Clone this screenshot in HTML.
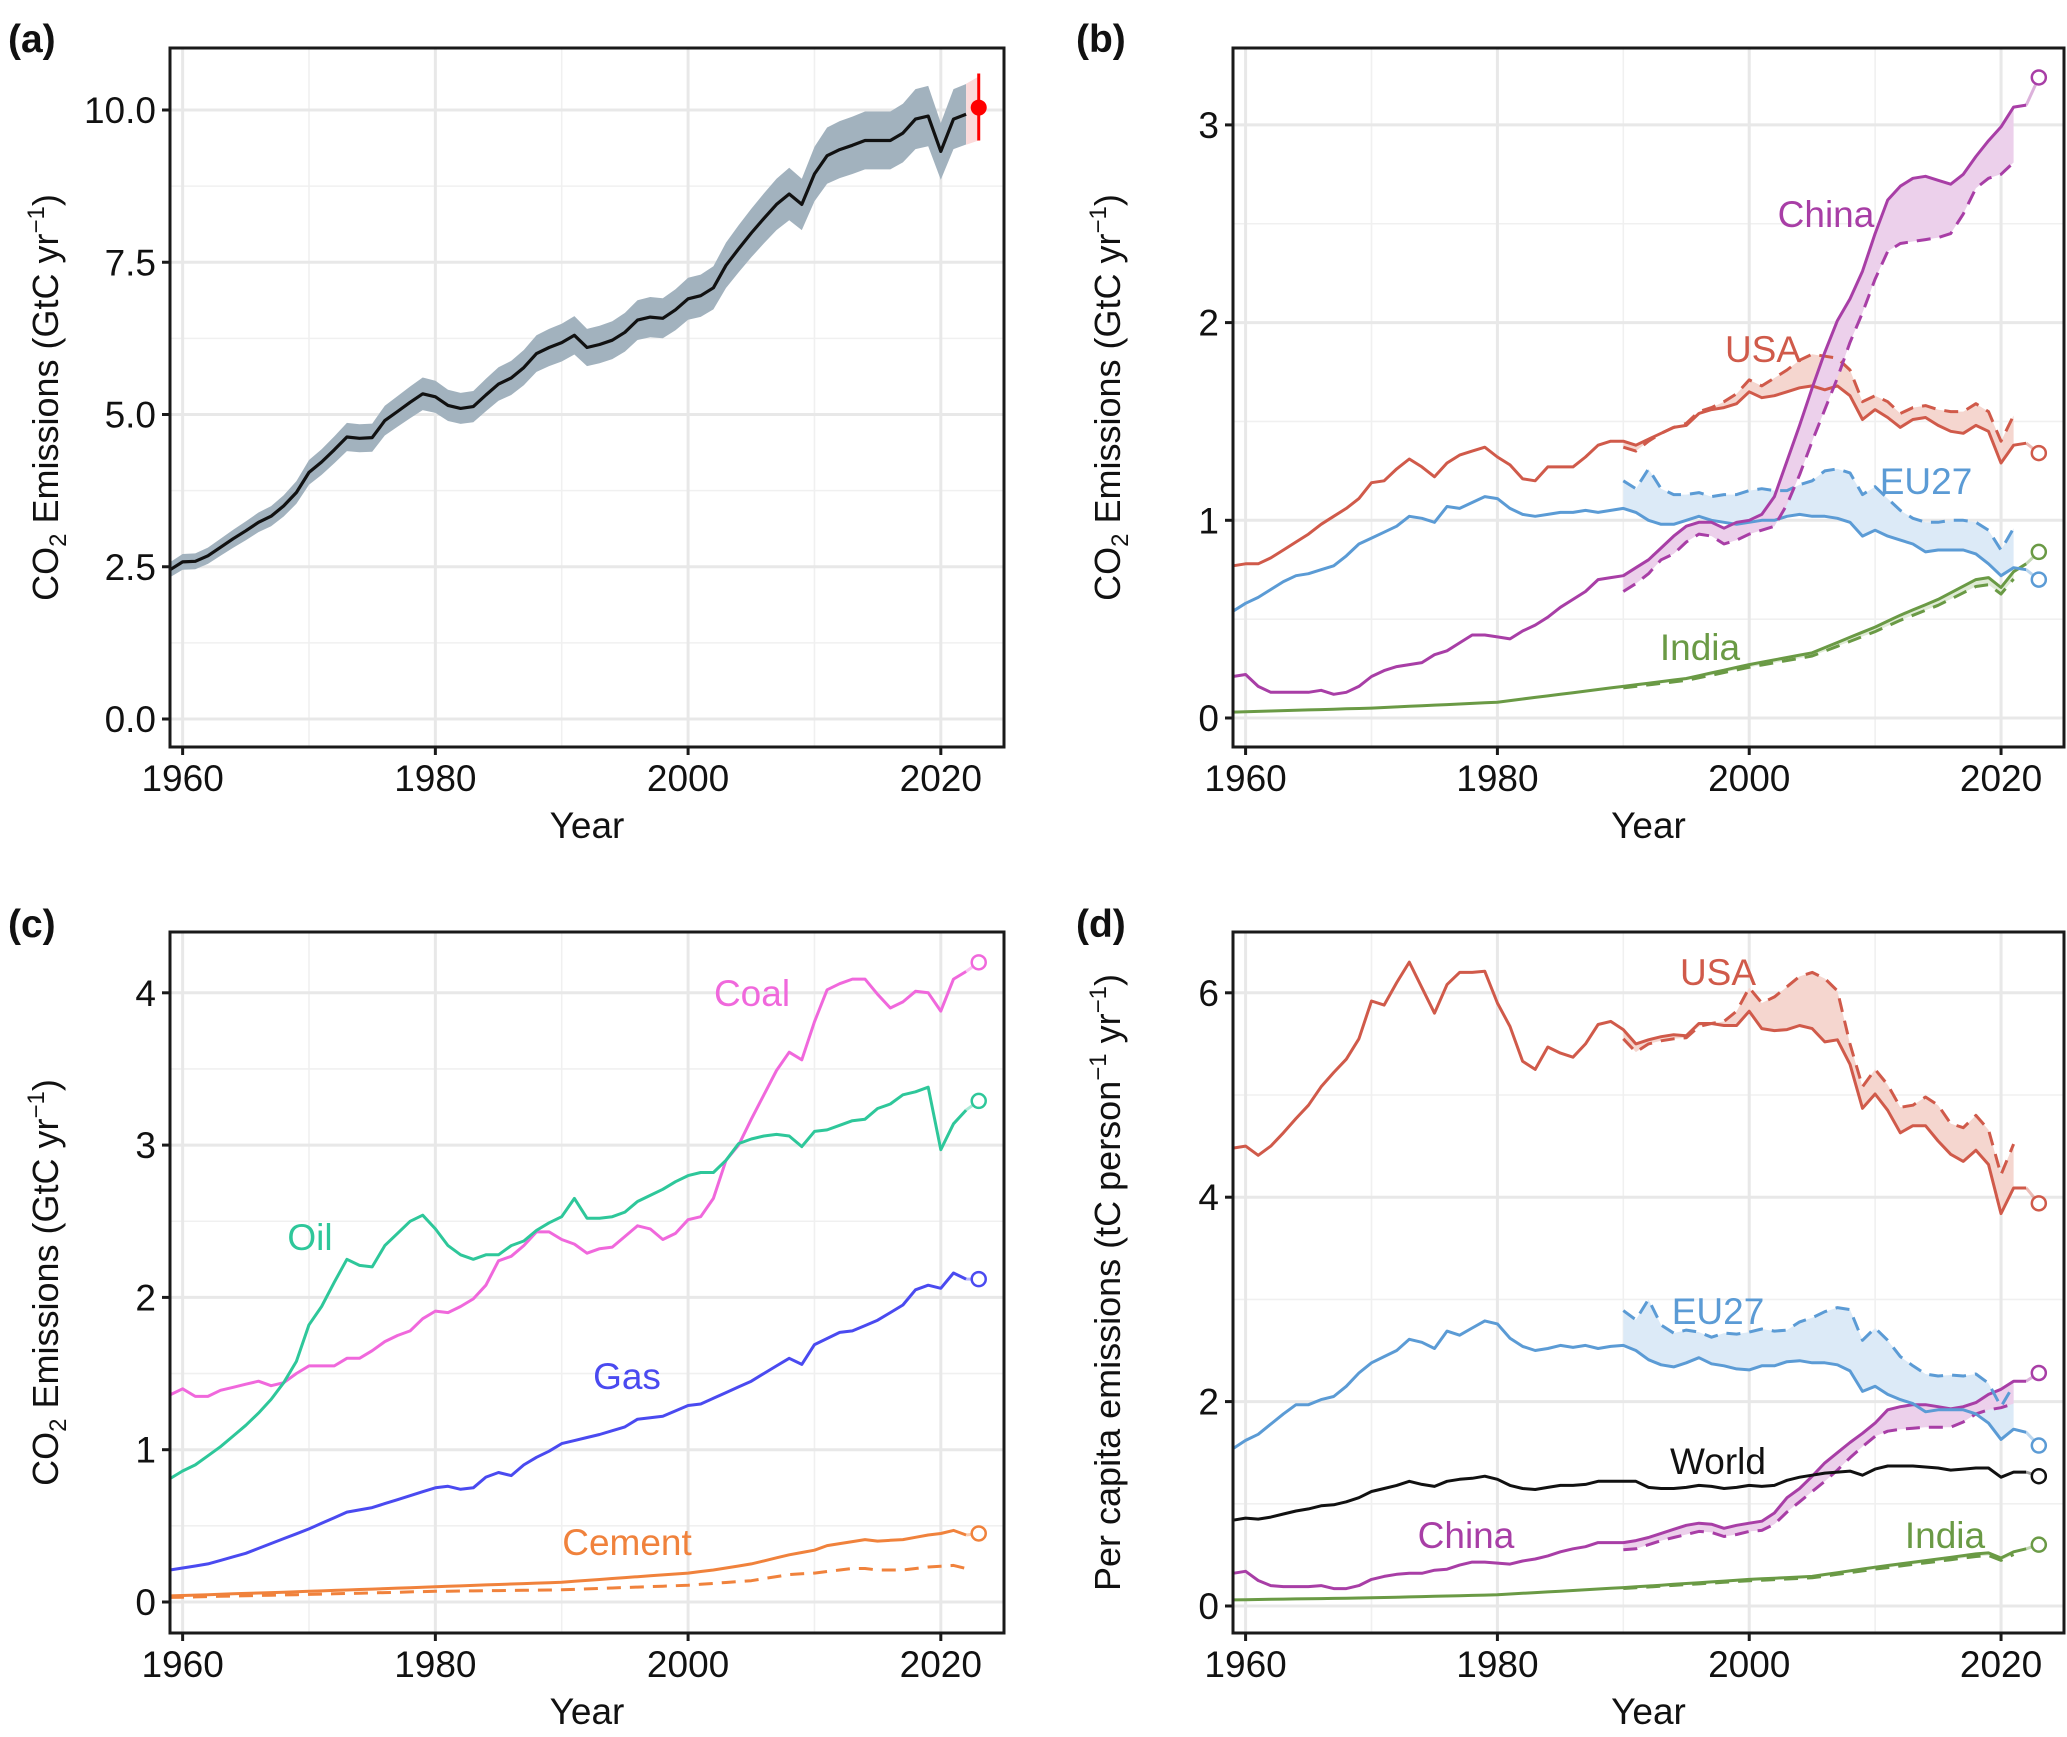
<!DOCTYPE html>
<html><head><meta charset="utf-8"><style>
html,body{margin:0;padding:0;background:#fff}
svg{display:block}
text{font-family:"Liberation Sans",Arial,sans-serif}
</style></head><body>
<svg id="s" width="2067" height="1737" viewBox="0 0 2067 1737" xmlns="http://www.w3.org/2000/svg"></svg>
<script>
const S=document.getElementById('s');let H='';
function ip(pts){const o=[];for(let i=0;i<pts.length-1;i++){const[a,va]=pts[i],[b,vb]=pts[i+1];for(let y=a;y<b;y++)o.push([y,va+(vb-va)*(y-a)/(b-a)]);}o.push(pts[pts.length-1]);return o;}
function arr(start,v){return v.map((x,i)=>[start+i,x]);}
function panel(P){
 const X=y=>P.x0+(y-1959)*(P.x1-P.x0)/66;
 const Y=v=>P.z-v*P.k;
 P.X=X;P.Y=Y;
 for(const m of P.minor){const yy=Y(m);H+=`<line x1="${P.x0}" x2="${P.x1}" y1="${yy}" y2="${yy}" stroke="#f0f0f0" stroke-width="1.6"/>`;}
 for(const yr of [1970,1990,2010]){H+=`<line x1="${X(yr)}" x2="${X(yr)}" y1="${P.t}" y2="${P.b}" stroke="#f0f0f0" stroke-width="1.6"/>`;}
 for(const m of P.major){const yy=Y(m[0]);H+=`<line x1="${P.x0}" x2="${P.x1}" y1="${yy}" y2="${yy}" stroke="#e8e8e8" stroke-width="3"/>`;}
 for(const yr of [1960,1980,2000,2020]){H+=`<line x1="${X(yr)}" x2="${X(yr)}" y1="${P.t}" y2="${P.b}" stroke="#e8e8e8" stroke-width="3"/>`;}
}
function frame(P){
 H+=`<rect x="${P.x0}" y="${P.t}" width="${P.x1-P.x0}" height="${P.b-P.t}" fill="none" stroke="#1a1a1a" stroke-width="3"/>`;
 for(const m of P.major){const yy=P.Y(m[0]);H+=`<line x1="${P.x0-8}" x2="${P.x0}" y1="${yy}" y2="${yy}" stroke="#1a1a1a" stroke-width="3"/><text x="${P.x0-14}" y="${yy+13}" font-size="37" text-anchor="end" fill="#111">${m[1]}</text>`;}
 for(const yr of [1960,1980,2000,2020]){const xx=P.X(yr);H+=`<line x1="${xx}" x2="${xx}" y1="${P.b}" y2="${P.b+8}" stroke="#1a1a1a" stroke-width="3"/><text x="${xx}" y="${P.b+44}" font-size="37" text-anchor="middle" fill="#111">${yr}</text>`;}
 H+=`<text x="${(P.x0+P.x1)/2}" y="${P.b+91}" font-size="37" text-anchor="middle" fill="#111">Year</text>`;
 H+=`<text x="${P.lx}" y="${P.ly}" font-size="39" font-weight="bold" fill="#111">${P.lab}</text>`;
 const cy=(P.t+P.b)/2;
 H+=`<text transform="translate(${P.tx},${cy}) rotate(-90)" font-size="36" text-anchor="middle" fill="#111">${P.title}</text>`;
}
function line(P,d,c,w,dash){const s=d.map((p,i)=>(i?'L':'M')+P.X(p[0]).toFixed(1)+','+P.Y(p[1]).toFixed(1)).join('');H+=`<path d="${s}" fill="none" stroke="${c}" stroke-width="${w||3}" stroke-linejoin="round" ${dash?'stroke-dasharray="14,9"':''}/>`;}
function band(P,up,lo,c,op){let s=up.map((p,i)=>(i?'L':'M')+P.X(p[0]).toFixed(1)+','+P.Y(p[1]).toFixed(1)).join('');s+=lo.slice().reverse().map(p=>'L'+P.X(p[0]).toFixed(1)+','+P.Y(p[1]).toFixed(1)).join('')+'Z';H+=`<path d="${s}" fill="${c}" ${op?`fill-opacity="${op}"`:''} stroke="none"/>`;}
function sub(d,a,b){return d.filter(p=>p[0]>=a&&p[0]<=b);}
function circ(P,v,c,last){H+=`<line x1="${P.X(2022)}" y1="${P.Y(last)}" x2="${P.X(2023)}" y2="${P.Y(v)}" stroke="${c}" stroke-opacity="0.4" stroke-width="3"/><circle cx="${P.X(2023)}" cy="${P.Y(v)}" r="7" fill="#fff" stroke="${c}" stroke-width="2.5"/>`;}
function lbl(x,y,t,c){H+=`<text x="${x}" y="${y+13}" font-size="37" text-anchor="middle" fill="${c}">${t}</text>`;}
const YT='CO<tspan font-size="24" dy="8">2</tspan><tspan dy="-8"> Emissions (GtC yr</tspan><tspan font-size="24" dy="-14">−1</tspan><tspan dy="14">)</tspan>';

const A={x0:170,x1:1004,t:48,b:747,z:719,k:60.9,major:[[0,'0.0'],[2.5,'2.5'],[5,'5.0'],[7.5,'7.5'],[10,'10.0']],minor:[1.25,3.75,6.25,8.75],lab:'(a)',lx:8,ly:52,tx:58,title:YT};
panel(A);
const wa=arr(1959,[2.45,2.58,2.59,2.68,2.82,2.96,3.09,3.23,3.33,3.5,3.72,4.05,4.22,4.42,4.63,4.61,4.62,4.9,5.05,5.2,5.34,5.29,5.15,5.1,5.13,5.32,5.5,5.6,5.77,6.0,6.1,6.18,6.3,6.1,6.15,6.22,6.35,6.55,6.6,6.58,6.72,6.9,6.95,7.08,7.45,7.72,7.98,8.22,8.45,8.62,8.45,8.95,9.25,9.35,9.42,9.5,9.5,9.5,9.62,9.85,9.9,9.32,9.85,9.93]);
band(A,wa.map(p=>[p[0],p[1]*1.05]),wa.map(p=>[p[0],p[1]*0.95]),'#a2b2be');
band(A,[[2022,10.43],[2023,10.55]],[[2022,9.43],[2023,9.5]],'#fbdada');
line(A,wa,'#111',3.2);
H+=`<line x1="${A.X(2023)}" x2="${A.X(2023)}" y1="${A.Y(10.6)}" y2="${A.Y(9.5)}" stroke="#f00" stroke-width="3"/><circle cx="${A.X(2023)}" cy="${A.Y(10.04)}" r="8" fill="#f00"/>`;
frame(A);

const B={x0:1233,x1:2064,t:48,b:747,z:718,k:197.7,major:[[0,'0'],[1,'1'],[2,'2'],[3,'3']],minor:[0.5,1.5,2.5],lab:'(b)',lx:1076,ly:52,tx:1120,title:YT};
panel(B);
const usa=arr(1959,[0.77,0.78,0.78,0.81,0.85,0.89,0.93,0.98,1.02,1.06,1.11,1.19,1.2,1.26,1.31,1.27,1.22,1.29,1.33,1.35,1.37,1.32,1.28,1.21,1.2,1.27,1.27,1.27,1.32,1.38,1.40,1.40,1.38,1.41,1.44,1.47,1.48,1.54,1.56,1.57,1.59,1.65,1.62,1.63,1.65,1.67,1.68,1.66,1.68,1.63,1.51,1.56,1.52,1.47,1.51,1.52,1.48,1.45,1.44,1.48,1.45,1.29,1.38,1.39]);
const usaC=arr(1990,[1.37,1.35,1.40,1.44,1.47,1.49,1.55,1.57,1.60,1.64,1.71,1.68,1.72,1.76,1.81,1.84,1.83,1.82,1.76,1.60,1.63,1.60,1.54,1.57,1.58,1.56,1.55,1.55,1.59,1.55,1.40,1.53]);
const eu=arr(1959,[0.54,0.58,0.61,0.65,0.69,0.72,0.73,0.75,0.77,0.82,0.88,0.91,0.94,0.97,1.02,1.01,0.99,1.07,1.06,1.09,1.12,1.11,1.06,1.03,1.02,1.03,1.04,1.04,1.05,1.04,1.05,1.06,1.04,1.00,0.98,0.98,1.00,1.02,1.00,0.99,0.98,0.99,1.00,1.00,1.02,1.03,1.02,1.02,1.01,0.99,0.92,0.95,0.92,0.90,0.88,0.84,0.85,0.85,0.85,0.83,0.78,0.72,0.76,0.75]);
const euC=arr(1990,[1.20,1.16,1.26,1.16,1.13,1.13,1.14,1.12,1.13,1.13,1.15,1.16,1.15,1.15,1.18,1.20,1.25,1.26,1.24,1.13,1.17,1.11,1.05,1.01,0.99,0.99,1.00,1.00,0.99,0.95,0.85,0.96]);
const ch=arr(1959,[0.21,0.22,0.16,0.13,0.13,0.13,0.13,0.14,0.12,0.13,0.16,0.21,0.24,0.26,0.27,0.28,0.32,0.34,0.38,0.42,0.42,0.41,0.40,0.44,0.47,0.51,0.56,0.60,0.64,0.70,0.71,0.72,0.76,0.80,0.86,0.92,0.97,0.99,0.99,0.96,0.99,1.00,1.03,1.12,1.30,1.48,1.67,1.85,2.01,2.12,2.26,2.45,2.62,2.69,2.73,2.74,2.72,2.70,2.75,2.84,2.92,2.99,3.09,3.10]);
const chC=arr(1990,[0.64,0.68,0.73,0.80,0.83,0.89,0.93,0.92,0.88,0.90,0.93,0.95,0.97,1.08,1.23,1.40,1.56,1.72,1.90,2.05,2.22,2.36,2.40,2.41,2.42,2.43,2.45,2.55,2.68,2.73,2.75,2.81]);
const ind=ip([[1959,0.03],[1970,0.05],[1980,0.08],[1990,0.16],[1995,0.2],[2000,0.27],[2005,0.33],[2010,0.46],[2012,0.52],[2015,0.6],[2018,0.7],[2019,0.71],[2020,0.66],[2021,0.74],[2022,0.78]]);
const indC=sub(ind,1990,2021).map(p=>[p[0],p[1]*0.95]);
band(B,sub(usa,1990,2021),usaC,'#f5d6cf');
band(B,sub(eu,1990,2021),euC,'#dceaf7');
band(B,sub(ch,1990,2021),chC,'#ecd0eb');
band(B,sub(ind,1990,2021),indC,'#dfebd6');
line(B,ind,'#6a9a45');line(B,indC,'#6a9a45',3,1);
line(B,eu,'#5b9bd5');line(B,euC,'#5b9bd5',3,1);
line(B,usa,'#d05a4a');line(B,usaC,'#d05a4a',3,1);
line(B,ch,'#a83ea6');line(B,chC,'#a83ea6',3,1);
circ(B,3.24,'#a83ea6',3.10);circ(B,1.34,'#d05a4a',1.39);circ(B,0.84,'#6a9a45',0.78);circ(B,0.70,'#5b9bd5',0.75);
lbl(1826,214,'China','#a83ea6');lbl(1763,349,'USA','#d05a4a');lbl(1926,481,'EU27','#5b9bd5');lbl(1700,647,'India','#6a9a45');
frame(B);

const C={x0:170,x1:1004,t:932,b:1633,z:1602,k:152.3,major:[[0,'0'],[1,'1'],[2,'2'],[3,'3'],[4,'4']],minor:[0.5,1.5,2.5,3.5],lab:'(c)',lx:8,ly:937,tx:58,title:YT};
panel(C);
const coal=arr(1959,[1.36,1.40,1.35,1.35,1.39,1.41,1.43,1.45,1.42,1.44,1.50,1.55,1.55,1.55,1.60,1.60,1.65,1.71,1.75,1.78,1.86,1.91,1.90,1.94,1.99,2.08,2.24,2.27,2.34,2.43,2.43,2.38,2.35,2.29,2.32,2.33,2.40,2.47,2.45,2.38,2.42,2.51,2.53,2.65,2.90,3.00,3.17,3.33,3.49,3.61,3.56,3.81,4.02,4.06,4.09,4.09,3.99,3.90,3.94,4.01,4.00,3.88,4.09,4.14]);
const oil=arr(1959,[0.81,0.86,0.90,0.96,1.02,1.09,1.16,1.24,1.33,1.44,1.58,1.82,1.94,2.10,2.25,2.21,2.20,2.34,2.42,2.50,2.54,2.45,2.34,2.28,2.25,2.28,2.28,2.34,2.37,2.44,2.49,2.53,2.65,2.52,2.52,2.53,2.56,2.63,2.67,2.71,2.76,2.80,2.82,2.82,2.90,3.01,3.04,3.06,3.07,3.06,2.99,3.09,3.10,3.13,3.16,3.17,3.24,3.27,3.33,3.35,3.38,2.97,3.14,3.23]);
const gas=ip([[1959,0.21],[1962,0.25],[1965,0.32],[1970,0.48],[1973,0.59],[1975,0.62],[1980,0.75],[1981,0.76],[1982,0.74],[1983,0.75],[1984,0.82],[1985,0.85],[1986,0.83],[1987,0.90],[1988,0.95],[1989,0.99],[1990,1.04],[1993,1.10],[1995,1.15],[1996,1.20],[1998,1.22],[2000,1.29],[2001,1.30],[2005,1.45],[2008,1.60],[2009,1.56],[2010,1.69],[2012,1.77],[2013,1.78],[2015,1.85],[2017,1.95],[2018,2.05],[2019,2.08],[2020,2.06],[2021,2.16],[2022,2.12]]);
const cem=ip([[1959,0.04],[1970,0.07],[1980,0.1],[1990,0.13],[1995,0.16],[2000,0.19],[2002,0.21],[2005,0.25],[2008,0.31],[2010,0.34],[2011,0.37],[2014,0.41],[2015,0.40],[2017,0.41],[2019,0.44],[2020,0.45],[2021,0.47],[2022,0.44]]);
const cemD=ip([[1959,0.03],[1970,0.05],[1980,0.07],[1990,0.08],[2000,0.11],[2005,0.14],[2008,0.18],[2010,0.19],[2013,0.22],[2014,0.22],[2015,0.21],[2017,0.21],[2019,0.23],[2021,0.24],[2022,0.22]]);
line(C,cemD,'#f0823c',3,1);line(C,cem,'#f0823c');line(C,gas,'#4a4af0');line(C,coal,'#f068dc');line(C,oil,'#2ec79a');
circ(C,4.20,'#f068dc',4.14);circ(C,3.29,'#2ec79a',3.23);circ(C,2.12,'#4a4af0',2.12);circ(C,0.45,'#f0823c',0.44);
lbl(752,993,'Coal','#f068dc');lbl(310,1237,'Oil','#2ec79a');lbl(627,1376,'Gas','#4a4af0');lbl(627,1542,'Cement','#f0823c');
frame(C);

const D={x0:1233,x1:2064,t:932,b:1633,z:1606,k:102.2,major:[[0,'0'],[2,'2'],[4,'4'],[6,'6']],minor:[1,3,5],lab:'(d)',lx:1076,ly:937,tx:1120,title:'Per capita emissions (tC person<tspan font-size="24" dy="-14">−1</tspan><tspan dy="14"> yr</tspan><tspan font-size="24" dy="-14">−1</tspan><tspan dy="14">)</tspan>'};
panel(D);
const usp=arr(1959,[4.48,4.5,4.41,4.5,4.63,4.77,4.9,5.08,5.22,5.35,5.55,5.92,5.88,6.1,6.3,6.05,5.8,6.08,6.2,6.2,6.21,5.9,5.67,5.33,5.25,5.47,5.41,5.37,5.5,5.69,5.72,5.64,5.5,5.54,5.57,5.59,5.58,5.7,5.7,5.68,5.68,5.82,5.65,5.63,5.64,5.68,5.65,5.52,5.54,5.3,4.87,5.01,4.85,4.63,4.7,4.7,4.55,4.42,4.35,4.46,4.32,3.84,4.09,4.09]);
const uspC=arr(1990,[5.55,5.42,5.5,5.53,5.55,5.56,5.67,5.7,5.72,5.82,6.05,5.9,5.96,6.06,6.16,6.2,6.14,6.02,5.5,5.08,5.25,5.1,4.88,4.9,4.98,4.9,4.72,4.68,4.8,4.66,4.22,4.52]);
const eup=arr(1959,[1.54,1.62,1.68,1.78,1.88,1.97,1.97,2.02,2.05,2.15,2.28,2.38,2.44,2.5,2.61,2.58,2.52,2.69,2.65,2.72,2.79,2.76,2.62,2.54,2.5,2.52,2.55,2.53,2.55,2.52,2.54,2.55,2.5,2.41,2.36,2.34,2.38,2.43,2.37,2.35,2.32,2.31,2.35,2.35,2.39,2.4,2.38,2.38,2.36,2.3,2.1,2.15,2.07,2.02,1.98,1.9,1.92,1.92,1.92,1.88,1.79,1.63,1.73,1.7]);
const eupC=arr(1990,[2.89,2.8,3.0,2.75,2.67,2.7,2.68,2.63,2.67,2.66,2.68,2.71,2.69,2.7,2.78,2.82,2.88,2.92,2.9,2.6,2.72,2.6,2.44,2.35,2.27,2.25,2.26,2.25,2.27,2.18,1.95,2.16]);
const wp=arr(1959,[0.84,0.86,0.85,0.87,0.9,0.93,0.95,0.98,0.99,1.02,1.06,1.12,1.15,1.18,1.22,1.19,1.17,1.22,1.24,1.25,1.27,1.24,1.18,1.15,1.14,1.16,1.18,1.18,1.19,1.22,1.22,1.22,1.22,1.16,1.15,1.15,1.16,1.18,1.17,1.15,1.16,1.18,1.17,1.18,1.23,1.26,1.28,1.3,1.31,1.32,1.28,1.34,1.37,1.37,1.37,1.36,1.35,1.33,1.34,1.35,1.35,1.26,1.31,1.31]);
const chp=arr(1959,[0.32,0.34,0.25,0.2,0.19,0.19,0.19,0.2,0.17,0.17,0.2,0.26,0.29,0.31,0.32,0.32,0.35,0.36,0.4,0.43,0.43,0.42,0.41,0.44,0.46,0.49,0.53,0.56,0.58,0.62,0.62,0.62,0.64,0.67,0.71,0.75,0.79,0.81,0.8,0.76,0.79,0.81,0.83,0.91,1.06,1.15,1.27,1.4,1.5,1.6,1.69,1.79,1.92,1.95,1.97,1.97,1.95,1.93,1.95,1.99,2.07,2.12,2.2,2.2]);
const chpC=arr(1990,[0.55,0.56,0.6,0.64,0.67,0.7,0.73,0.72,0.68,0.7,0.73,0.74,0.8,0.92,1.02,1.12,1.22,1.33,1.45,1.56,1.66,1.71,1.73,1.74,1.75,1.75,1.75,1.8,1.88,1.92,1.94,1.98]);
const inp=ip([[1959,0.06],[1970,0.08],[1980,0.11],[1990,0.18],[2000,0.26],[2005,0.29],[2010,0.38],[2015,0.46],[2018,0.51],[2019,0.52],[2020,0.47],[2021,0.53],[2022,0.56]]);
const inpC=sub(inp,1990,2021).map(p=>[p[0],p[1]*0.95]);
band(D,sub(usp,1990,2021),uspC,'#f5d6cf');
band(D,sub(eup,1990,2021),eupC,'#dceaf7');
band(D,sub(chp,1990,2021),chpC,'#ecd0eb');
band(D,sub(inp,1990,2021),inpC,'#dfebd6');
line(D,inp,'#6a9a45');line(D,inpC,'#6a9a45',3,1);
line(D,chp,'#a83ea6');line(D,chpC,'#a83ea6',3,1);
line(D,wp,'#111');
line(D,eup,'#5b9bd5');line(D,eupC,'#5b9bd5',3,1);
line(D,usp,'#d05a4a');line(D,uspC,'#d05a4a',3,1);
circ(D,3.94,'#d05a4a',4.09);circ(D,2.28,'#a83ea6',2.2);circ(D,1.57,'#5b9bd5',1.7);circ(D,1.27,'#111',1.31);circ(D,0.6,'#6a9a45',0.56);
lbl(1718,972,'USA','#d05a4a');lbl(1718,1311,'EU27','#5b9bd5');lbl(1718,1461,'World','#111');lbl(1466,1535,'China','#a83ea6');lbl(1945,1535,'India','#6a9a45');
frame(D);
S.innerHTML=H;
</script>
</body></html>
